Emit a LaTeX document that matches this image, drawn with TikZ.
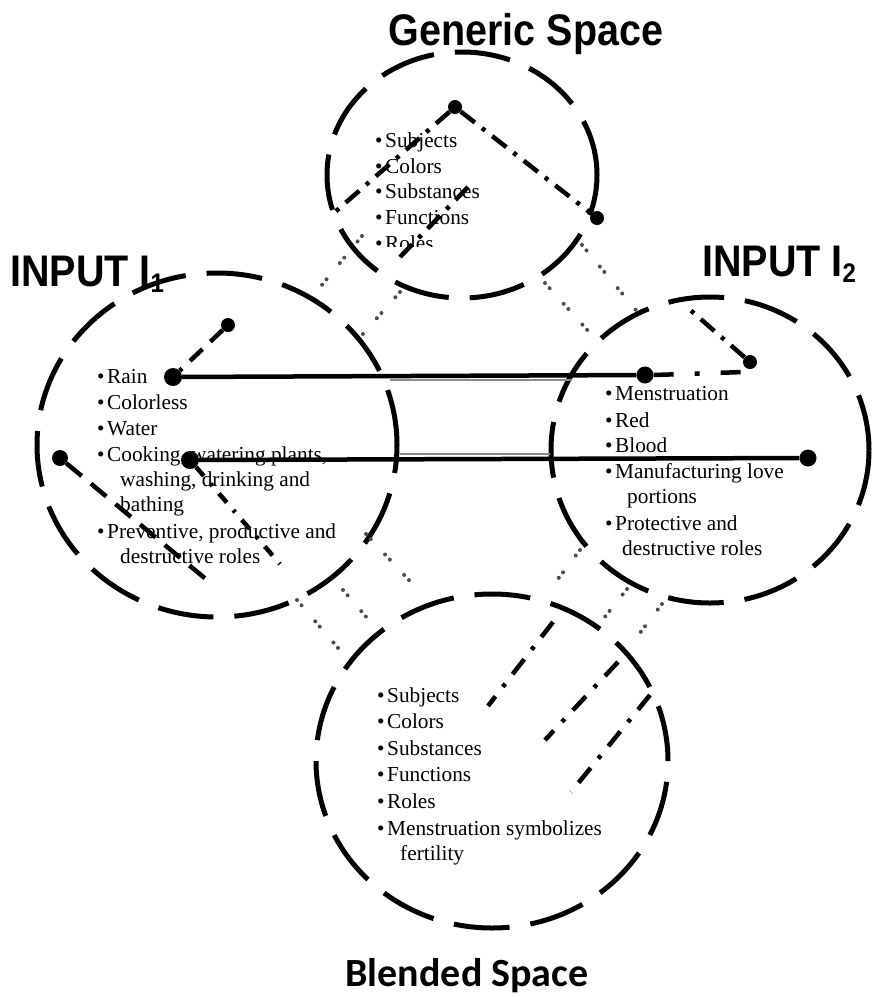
\documentclass[tikz,border=0pt]{standalone}
\usepackage{fontspec}
\setmainfont{Liberation Serif}
\newfontfamily\headfont{Liberation Sans}
\newfontfamily\blendfont{Carlito}
\usetikzlibrary{shapes.geometric}
\newcommand\bul{\llap{\textbullet\kern2.5pt}}
\newcommand\headtext[1]{\scalebox{1}[1.12]{#1}}
\begin{document}
\begin{tikzpicture}[x=1pt,y=-1pt,
  space/.style={ellipse, draw, inner sep=0pt, line width=5pt,
    dash pattern=on 56pt off 21pt},
  dot/.style={circle, fill, inner sep=0pt, minimum size=17pt},
  smalldot/.style={dot, minimum size=14pt},
  txt/.style={anchor=base west, inner sep=0pt,
    font=\fontsize{21.3}{25}\selectfont},
  head/.style={inner sep=0pt, font=\headfont\bfseries\fontsize{39.5}{40}\selectfont},
  solidlink/.style={line width=4.5pt},
  shadow/.style={line width=2.5pt, black!45},
  dashlink/.style={line width=4.5pt, dash pattern=on 17pt off 11pt},
  dashdotlink/.style={line width=4.5pt, dash pattern=on 18pt off 9pt on 4pt off 9pt},
  maplink/.style={line width=4pt, black!70, line cap=round,
    dash pattern=on 0pt off 7pt on 0pt off 21pt}
]
\useasboundingbox (0,0) rectangle (872,997);

% ---------- titles ----------
\node[head, anchor=base] (tgen) at (526,45) {\headtext{Generic Space}};
\node[head, anchor=base west] (tin1) at (10,286) {\headtext{INPUT I\raisebox{-6pt}{\fontsize{24}{24}\selectfont 1}}};
\node[head, anchor=base west] (tin2) at (702,276) {\headtext{INPUT I\raisebox{-6pt}{\fontsize{24}{24}\selectfont 2}}};
\node[inner sep=0pt, anchor=base, font=\blendfont\bfseries\fontsize{40}{40}\selectfont] (tblend) at (467,986) {Blended Space};

% ---------- list texts ----------
% generic space (last line hidden below its upper half)
\node[txt] (g1t) at (385,147) {\bul Subjects};
\node[txt] (g2t) at (385,173) {\bul Colors};
\node[txt] (g3t) at (385,198) {\bul Substances};
\node[txt] (g4t) at (385,224) {\bul Functions};
\begin{scope}
  \clip (360,200) rectangle (480,246);
  \node[txt] (g5t) at (385,250) {\bul Roles};
\end{scope}

% input 1
\node[txt] (a1t) at (107,383) {\bul Rain};
\node[txt] (a2t) at (107,409) {\bul Colorless};
\node[txt] (a3t) at (107,435) {\bul Water};
\node[txt] (a4t) at (107,461) {\bul Cooking, watering plants,};
\node[txt] (a5t) at (120,486) {washing, drinking and};
\node[txt] (a6t) at (120,511) {bathing};
\node[txt] (a7t) at (107,538) {\bul Preventive, productive and};
\begin{scope}
  \clip (100,540) rectangle (330,565);
  \node[txt] (a8t) at (120,563) {destructive roles};
\end{scope}

% input 2
\node[txt] (b1t) at (615,400) {\bul Menstruation};
\node[txt] (b2t) at (615,427) {\bul Red};
\node[txt] (b3t) at (615,452) {\bul Blood};
\node[txt] (b4t) at (615,478) {\bul Manufacturing love};
\node[txt] (b5t) at (627,503) {portions};
\node[txt] (b6t) at (615,530) {\bul Protective and};
\node[txt] (b7t) at (622,555) {destructive roles};

% blended space
\node[txt] (c1t) at (387,702) {\bul Subjects};
\node[txt] (c2t) at (387,728) {\bul Colors};
\node[txt] (c3t) at (387,755) {\bul Substances};
\node[txt] (c4t) at (387,781) {\bul Functions};
\node[txt] (c5t) at (387,808) {\bul Roles};
\node[txt] (c6t) at (387,835) {\bul Menstruation symbolizes};
\node[txt] (c7t) at (400,860) {fertility};

% ---------- the four spaces ----------
\node[space, minimum width=270pt, minimum height=246pt] (generic) at (462,175) {};
\node[space, minimum width=360pt, minimum height=344pt] (input1) at (217,445) {};
\node[space, minimum width=318pt, minimum height=306pt] (input2) at (710,450) {};
\node[space, minimum width=352pt, minimum height=334pt] (blend) at (492,761) {};

% ---------- mapping lines between spaces ----------
\coordinate (m1a) at (362,236); \coordinate (m1b) at (312,297);
\coordinate (m2a) at (400,292); \coordinate (m2b) at (362,335);
\coordinate (m3a) at (582,245); \coordinate (m3b) at (640,315);
\coordinate (m4a) at (545,283); \coordinate (m4b) at (598,342);
\coordinate (m5a) at (366,534); \coordinate (m5b) at (420,592);
\coordinate (m6a) at (343,590); \coordinate (m6b) at (374,626);
\coordinate (m7a) at (297,600); \coordinate (m7b) at (350,662);
\coordinate (m8a) at (580,550); \coordinate (m8b) at (548,592);
\coordinate (m9a) at (627,589); \coordinate (m9b) at (596,628);
\coordinate (m10a) at (662,604); \coordinate (m10b) at (630,646);
\foreach \k in {1,...,10} \draw[maplink] (m\k a) -- (m\k b);

% ---------- element dots ----------
\node[smalldot] (gtop) at (455,107) {};
\node[smalldot] (gright) at (597,218) {};
\node[smalldot] (i1up) at (228,325) {};
\node[dot, minimum size=18pt] (rain) at (173,377) {};
\node[dot, minimum size=18pt] (cook) at (190,460) {};
\node[dot, minimum size=16pt] (i1left) at (60,458) {};
\node[dot] (mens) at (645,375) {};
\node[smalldot] (i2up) at (750,362) {};
\node[dot] (blood) at (808,458) {};

% ---------- links between elements ----------
\draw[shadow] (390,380) -- (572,380);
\draw[shadow] (400,454) -- (550,454);
\draw[solidlink] (rain) -- (mens);
\draw[solidlink] (cook) -- (blood);

\coordinate (i2bend) at (744,372);
\draw[line width=4.5pt, dash pattern=on 20pt off 21pt on 5pt off 21pt] (mens.east) -- (i2bend) -- (i2up);
\coordinate (i2end) at (688,308);
\draw[dashdotlink] (i2up) -- (i2end);

\draw[dashdotlink] (gtop) -- (gright);
\coordinate (gleft) at (335,212);
\draw[dashdotlink] (gtop) -- (gleft);
\coordinate (gmida) at (468,187);
\coordinate (gmidb) at (400,257);
\draw[dashdotlink] (gmida) -- (gmidb);

\draw[dashlink] (i1up) -- (rain);
\coordinate (i1lend) at (207,580);
\draw[dashlink, dash pattern=on 20pt off 12pt] (i1left) -- (i1lend);
\coordinate (cookend) at (280,564);
\draw[dashdotlink, dash pattern=on 12pt off 10pt on 3pt off 10pt] (cook) -- (cookend);

% ---------- dash-dot lines in the blended space ----------
\coordinate (bl1a) at (553,622); \coordinate (bl1b) at (488,706);
\coordinate (bl2a) at (618,662); \coordinate (bl2b) at (545,740);
\coordinate (bl3a) at (650,695); \coordinate (bl3b) at (571,792);
\foreach \k in {1,2,3}
  \draw[line width=4.5pt, dash pattern=on 19pt off 12pt on 4pt off 12pt] (bl\k a) -- (bl\k b);
\end{tikzpicture}
\end{document}
